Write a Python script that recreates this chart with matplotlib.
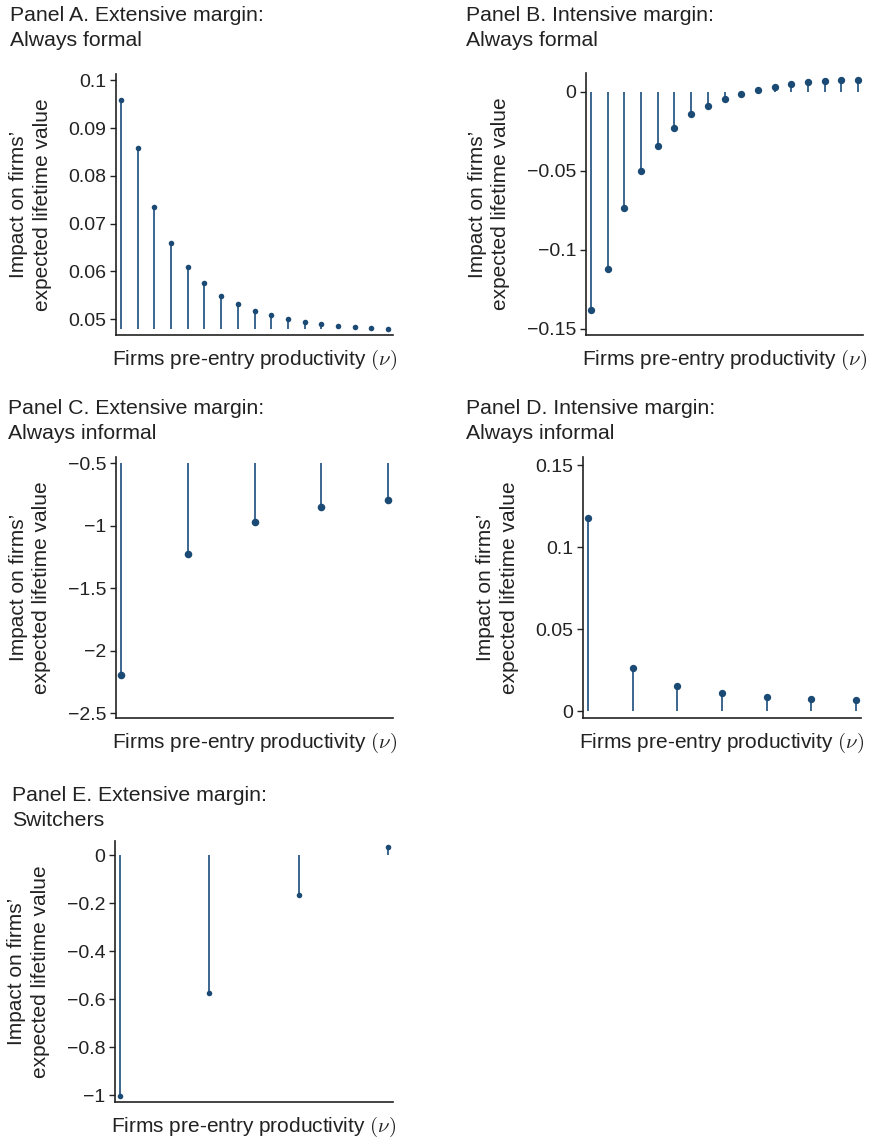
import matplotlib
matplotlib.use('Agg')
import matplotlib.pyplot as plt
from matplotlib.ticker import FuncFormatter
import numpy as np

plt.rcParams['font.family'] = ['Liberation Sans', 'DejaVu Sans']
plt.rcParams['mathtext.fontset'] = 'cm'

# values
panel_a = [0.0958, 0.0858, 0.0734, 0.0660, 0.0610, 0.0575, 0.0548, 0.0531, 0.0518,
           0.0508, 0.0500, 0.0494, 0.0489, 0.0486, 0.0483, 0.0482, 0.0480]
panel_b = [-0.1382, -0.1119, -0.0738, -0.0500, -0.0343, -0.0226, -0.0142, -0.0087, -0.0044,
           -0.0011, 0.0015, 0.0034, 0.0049, 0.0061, 0.0068, 0.0074, 0.0078]
panel_c = [-2.195, -1.226, -0.971, -0.853, -0.795]
panel_d = [0.1179, 0.0264, 0.0152, 0.0112, 0.0087, 0.0075, 0.0067]
panel_e = [-1.003, -0.574, -0.167, 0.035]

bases = [0.048, 0.0, -0.5, 0.0, 0.0]
yticks = [[0.05, 0.06, 0.07, 0.08, 0.09, 0.1],
          [-0.15, -0.1, -0.05, 0],
          [-2.5, -2, -1.5, -1, -0.5],
          [0, 0.05, 0.1, 0.15],
          [-1, -0.8, -0.6, -0.4, -0.2, 0]]
ylims = [(0.0467, 0.1013), (-0.154, 0.012), (-2.54, -0.45), (-0.004, 0.155), (-1.028, 0.06)]
titles = ['Panel A. Extensive margin:\nAlways formal',
          'Panel B. Intensive margin:\nAlways formal',
          'Panel C. Extensive margin:\nAlways informal',
          'Panel D. Intensive margin:\nAlways informal',
          'Panel E. Extensive margin:\nSwitchers']

W, H = 871, 1138
# axes boxes in pixels: left, right, top, bottom
boxes = [(116, 393, 74, 335), (586, 863, 73, 335),
         (116, 393, 457, 718), (583, 861, 457, 718),
         (115, 393, 841, 1102)]
title_pos = [(10, 6), (466, 6), (8, 399), (466, 399), (12, 786)]
dot_sizes = [16, 28, 30, 28, 16]

dark = '#222222'
navy = '#1b4a75'

fig = plt.figure(figsize=(W / 100, H / 100), dpi=100)
data = [panel_a, panel_b, panel_c, panel_d, panel_e]

for i, vals in enumerate(data):
    l, r, t, b = boxes[i]
    ax = fig.add_axes([l / W, 1 - b / H, (r - l) / W, (b - t) / H])
    x = np.arange(1, len(vals) + 1)
    ax.vlines(x, bases[i], vals, color='#2c5a86', lw=1.3, zorder=2)
    ax.scatter(x, vals, s=dot_sizes[i], color=navy, zorder=3, linewidths=0)
    ax.margins(x=0.019)
    ax.set_ylim(*ylims[i])
    ax.set_yticks(yticks[i])
    ax.yaxis.set_major_formatter(FuncFormatter(lambda v, p: ('%g' % v).replace('-', '\u2212')))
    ax.set_xticks([])
    for s in ['top', 'right']:
        ax.spines[s].set_visible(False)
    for s in ['left', 'bottom']:
        ax.spines[s].set_color(dark)
        ax.spines[s].set_linewidth(1.2)
    ax.tick_params(axis='y', length=4, width=1, color=dark, labelsize=14, labelcolor=dark, pad=3)
    ax.set_ylabel('Impact on firms\u2019\nexpected lifetime value', fontsize=15, color=dark,
                  linespacing=1.3, labelpad=12)
    ax.set_xlabel(r'Firms pre-entry productivity $(\nu)$', fontsize=15, color=dark, labelpad=9)
    tx, ty = title_pos[i]
    fig.text(tx / W, 1 - ty / H, titles[i], fontsize=15.3, color=dark, va='top', ha='left',
             linespacing=1.4)

fig.savefig('out.png', dpi=100)
